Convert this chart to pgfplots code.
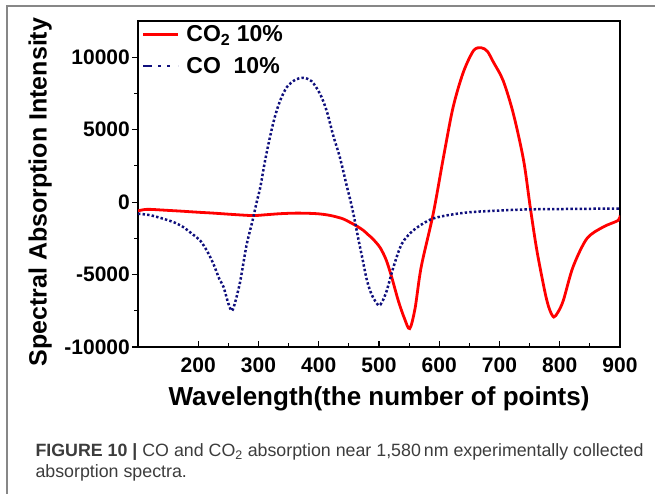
\documentclass[border=0pt]{standalone}
\usepackage{fontspec}
\setmainfont{Liberation Sans}
\usepackage{pgfplots}
\pgfplotsset{compat=1.18}
\definecolor{conavy}{RGB}{15,15,125}
\definecolor{framegray}{RGB}{135,135,135}
\definecolor{capgray}{RGB}{60,60,60}

\begin{document}
\begin{tikzpicture}[x=1pt,y=1pt]
\useasboundingbox (0,0) rectangle (655,494);
\draw[framegray, line width=1.3pt] (7,0) -- (7,488) -- (655,488);
\begin{axis}[
  at={(138pt,147pt)}, anchor=south west,
  width=482pt, height=326pt, scale only axis,
  xmin=100, xmax=900, ymin=-10000, ymax=12500,
  scaled y ticks=false, scaled x ticks=false,
  xtick={200,300,400,500,600,700,800,900},
  xticklabels={200,300,400,500,600,700,800,900},
  ytick={-10000,-5000,0,5000,10000},
  yticklabels={-10000,-5000,0,5000,10000},
  minor x tick num=1, minor y tick num=1,
  tick pos=left,
  xtick align=inside, ytick align=outside,
  major tick length=6pt, minor tick length=3.5pt,
  axis line style={line width=1.3pt},
  every tick/.style={black, line width=1.2pt},
  ticklabel style={font=\fontsize{21}{21}\selectfont\bfseries},
  yticklabel style={inner sep=2pt},
  xticklabel style={inner sep=2pt, yshift=-9pt},
  every axis x label/.style={at={(axis description cs:0.5,-0.16)}, anchor=center},
  every axis y label/.style={at={(axis description cs:-0.203,0.475)}, anchor=center, rotate=90},
  xlabel={\fontsize{26}{26}\selectfont\bfseries Wavelength(the number of points)},
  ylabel={\fontsize{25}{25}\selectfont\bfseries Spectral Absorption Intensity},
  legend style={draw=none, fill=none, at={(axis description cs:0.005,0.995)}, anchor=north west,
    font=\fontsize{23}{23}\selectfont\bfseries, inner sep=1pt, row sep=10pt,
    /tikz/every odd column/.append style={column sep=5pt}},
  legend cell align=left,
  legend image code/.code={\draw[#1] (0pt,0pt) -- (35pt,0pt);},
]
\addplot[red, line width=2.8pt, smooth] coordinates {
(100,-600) (110,-520) (120,-500) (145,-560) (170,-620) (200,-700) (225,-760)
(260,-860) (291,-930) (310,-880) (336,-800) (365,-760) (397,-800) (419,-920)
(440,-1150) (452,-1400) (463,-1650) (474,-1950) (482,-2250) (490,-2550)
(502,-3150) (512,-4000) (521,-5170) (532,-6800) (542,-8000) (551,-8730)
(560,-7300) (570,-4480) (590,-800) (607,3100) (623,6550) (640,8970)
(657,10460) (670,10650) (680,10400) (690,9650) (706,8390) (723,6100) (740,2880)
(751,-340) (762,-3330) (776,-6320) (783,-7400) (790,-7930) (797,-7600)
(806,-6780) (822,-4480) (845,-2520) (872,-1720) (897,-1260) (900,-920)
};
\addlegendentry{CO\textsubscript{2} 10\%}
\addplot[conavy, line width=2.5pt, dash pattern=on 2.4pt off 2.2pt, smooth,
  legend image code/.code={\draw[conavy, line width=2.4pt, dash pattern=on 9pt off 6pt on 3pt off 6pt on 3pt off 8pt] (0pt,0pt) -- (35pt,0pt);}] coordinates {
(100,-800) (120,-900) (142,-1150) (160,-1400) (175,-1720) (190,-2200) (203,-2640)
(215,-3400) (225,-4250) (235,-5300) (242,-5860) (250,-7000) (256,-7500)
(262,-6800) (270,-5400) (280,-3000) (290,-1300) (297,0) (303,1030) (311,2880)
(319,4480) (327,5860) (336,7010) (347,7930) (361,8440) (374,8580) (388,8350)
(402,7480) (413,6320) (424,4600) (435,3100) (446,1200) (452,200) (458,-900)
(466,-2600) (473,-4000) (480,-5400) (488,-6400) (499,-7120) (505,-6900)
(513,-6090) (524,-4480) (538,-2870) (557,-1950) (585,-1210) (612,-920)
(650,-700) (700,-580) (750,-500) (800,-480) (850,-460) (900,-450)
};
\addlegendentry{CO\ \ 10\%}
\end{axis}
\node[anchor=base west, text=capgray, font=\fontsize{17.8}{17.8}\selectfont] at (32,37.3)
  {\textbf{FIGURE 10 |} CO and CO\textsubscript{2} absorption near 1,580\,nm experimentally collected};
\node[anchor=base west, text=capgray, font=\fontsize{17.8}{17.8}\selectfont] at (32,16)
  {absorption spectra.};
\end{tikzpicture}
\end{document}
